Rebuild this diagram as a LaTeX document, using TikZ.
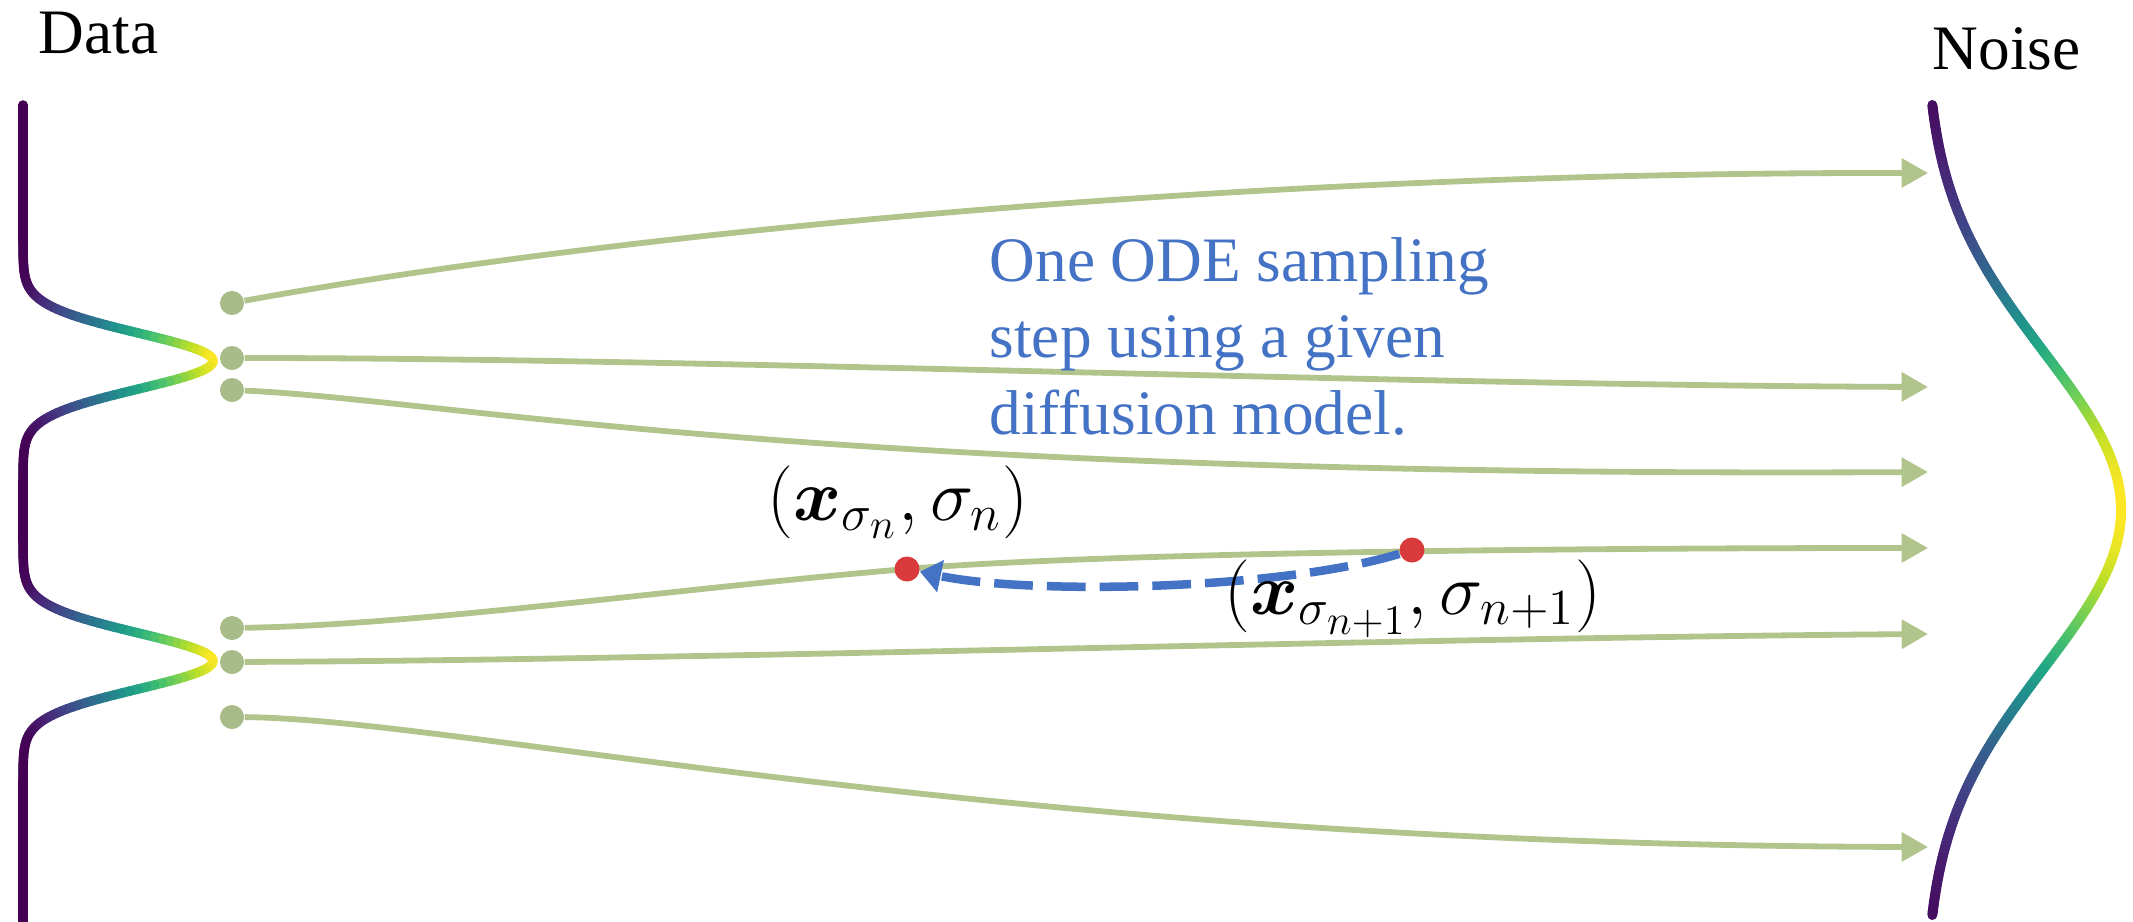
\documentclass[tikz,border=0pt]{standalone}
\usepackage{fontspec}
\setmainfont{Liberation Serif}
\usepackage{amsmath}
\usetikzlibrary{arrows.meta}
\definecolor{v0}{HTML}{440154}
\definecolor{v1}{HTML}{482475}
\definecolor{v2}{HTML}{414487}
\definecolor{v3}{HTML}{355F8D}
\definecolor{v4}{HTML}{2A788E}
\definecolor{v5}{HTML}{21918C}
\definecolor{v6}{HTML}{22A884}
\definecolor{v7}{HTML}{44BF70}
\definecolor{v8}{HTML}{7AD151}
\definecolor{v9}{HTML}{BDDF26}
\definecolor{v10}{HTML}{FDE725}
\definecolor{glinec}{RGB}{176,196,140}
\definecolor{gdotc}{RGB}{168,188,138}
\definecolor{rdotc}{RGB}{217,58,60}
\definecolor{bluec}{RGB}{68,114,196}
\newcommand{\virset}[1]{%
  \pgfmathsetmacro{\vf}{max(0,min(0.9999,#1))*10}%
  \pgfmathtruncatemacro{\vi}{floor(\vf)}%
  \pgfmathsetmacro{\vp}{(\vf-\vi)*100}%
  \pgfmathtruncatemacro{\vj}{\vi+1}%
  \colorlet{vc}{v\vj!\vp!v\vi}}
\begin{document}
\begin{tikzpicture}[x=0.01cm,y=-0.01cm,
  declare function={
    lx(\y)=23+190*(exp(-0.5*min(36,((\y-361)/28)*((\y-361)/28)))+exp(-0.5*min(36,((\y-661)/28)*((\y-661)/28))));
    rx(\y)=1925+196*exp(-0.5*min(36,((\y-510)/158)*((\y-510)/158)));
  },
  grn/.style={draw=glinec, line width=0.058cm, -{Triangle[length=7.5pt,width=8pt]}},
  gdot/.style={circle, fill=gdotc, minimum size=0.24cm, inner sep=0pt},
  rdot/.style={circle, fill=rdotc, minimum size=0.25cm, inner sep=0pt},
  bdash/.style={draw=bluec, line width=0.085cm, dash pattern=on 11pt off 4pt, -{Triangle[length=6pt,width=9pt]}},
  ttl/.style={anchor=base west, inner sep=0pt, font=\fontsize{18}{21.6}\selectfont},
  mlab/.style={anchor=base, inner sep=0pt, font=\fontsize{20.74}{24}\selectfont},
]
\useasboundingbox[fill=white] (0,0) rectangle (2133,921);
% Data density (viridis coloured)
\foreach \i in {0,...,407}{
  \pgfmathsetmacro{\ya}{105+2*\i}
  \pgfmathsetmacro{\yb}{\ya+2}
  \pgfmathsetmacro{\xa}{lx(\ya)}
  \pgfmathsetmacro{\xb}{lx(\yb)}
  \virset{((\xa+\xb)/2-23)/190}
  \draw[vc, line width=0.095cm, line cap=round] (\xa,\ya) -- (\xb,\yb);
}
% Noise density
\foreach \i in {0,...,269}{
  \pgfmathsetmacro{\ya}{105+3*\i}
  \pgfmathsetmacro{\yb}{\ya+3}
  \pgfmathsetmacro{\xa}{rx(\ya)}
  \pgfmathsetmacro{\xb}{rx(\yb)}
  \virset{((\xa+\xb)/2-1925)/196}
  \draw[vc, line width=0.1cm, line cap=round] (\xa,\ya) -- (\xb,\yb);
}
% start points
\node[gdot] (s1) at (232,303) {};
\node[gdot] (s2) at (232,358) {};
\node[gdot] (s3) at (232,390) {};
\node[gdot] (s4) at (232,628) {};
\node[gdot] (s5) at (232,662) {};
\node[gdot] (s6) at (232,717) {};
\coordinate (e1) at (1928,173);
\coordinate (e2) at (1928,387);
\coordinate (e3) at (1928,472);
\coordinate (e4) at (1928,548);
\coordinate (e5) at (1928,634);
\coordinate (e6) at (1928,847);
\coordinate (p1) at (907,569);
\coordinate (p2) at (1412,550);
% trajectories
\draw[grn] (s1) .. controls (620,232) and (1250,172) .. (e1);
\draw[grn] (s2) .. controls (700,358) and (1400,385) .. (e2);
\draw[grn] (s3) .. controls (450,400) and (800,478) .. (e3);
\draw[grn] (s4) .. controls (420,625) and (680,588) .. (p1) .. controls (1089,554) and (1500,548) .. (e4);
\draw[grn] (s5) .. controls (700,660) and (1400,638) .. (e5);
\draw[grn] (s6) .. controls (460,719) and (1000,845) .. (e6);
% ODE step
\node[rdot] (r1) at (p1) {};
\node[rdot] (r2) at (p2) {};
\draw[bdash] (r2) .. controls (1280,590) and (1030,595) .. (r1);
% labels
\node[mlab] (l1) at (898,520) {$(\boldsymbol{x}_{\sigma_n},\sigma_n)$};
\node[mlab] (l2) at (1413,614) {$(\boldsymbol{x}_{\sigma_{n+1}},\sigma_{n+1})$};
\node[anchor=north west, inner sep=0pt, align=left, text=bluec, font=\fontsize{18}{21.7}\selectfont] (desc) at (989,237) {One ODE sampling\\step using a given\\diffusion model.};
\node[ttl] (data) at (38,54) {Data};
\node[ttl] (noise) at (1932,70) {Noise};
\end{tikzpicture}
\end{document}
